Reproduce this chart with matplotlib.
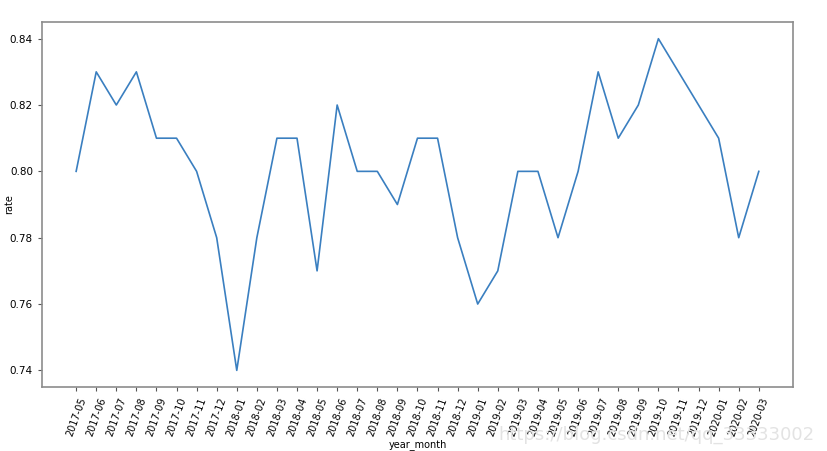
import matplotlib
matplotlib.use('Agg')
import matplotlib.pyplot as plt

# Data
months = ['2017-05', '2017-06', '2017-07', '2017-08', '2017-09', '2017-10', '2017-11', '2017-12',
          '2018-01', '2018-02', '2018-03', '2018-04', '2018-05', '2018-06', '2018-07', '2018-08',
          '2018-09', '2018-10', '2018-11', '2018-12', '2019-01', '2019-02', '2019-03', '2019-04',
          '2019-05', '2019-06', '2019-07', '2019-08', '2019-09', '2019-10', '2019-11', '2019-12',
          '2020-01', '2020-02', '2020-03']
rate = [0.80, 0.83, 0.82, 0.83, 0.81, 0.81, 0.80, 0.78,
        0.74, 0.78, 0.81, 0.81, 0.77, 0.82, 0.80, 0.80,
        0.79, 0.81, 0.81, 0.78, 0.76, 0.77, 0.80, 0.80,
        0.78, 0.80, 0.83, 0.81, 0.82, 0.84, 0.83, 0.82,
        0.81, 0.78, 0.80]

fig = plt.figure(figsize=(8.27, 4.51), dpi=100)
ax = fig.add_axes([0.0508, 0.142, 0.908, 0.809])

ax.plot(months, rate, color='#3a7fc0', linewidth=1.2)

ax.set_yticks([0.74, 0.76, 0.78, 0.80, 0.82, 0.84])
ax.tick_params(axis='x', labelrotation=70, labelsize=7, color='#555555', length=3)
ax.tick_params(axis='y', labelsize=7.5, color='#555555', length=3)
ax.set_xlabel('year_month', fontsize=7, labelpad=1)
ax.set_ylabel('rate', fontsize=7)
ax.yaxis.set_label_coords(-0.037, 0.5)
for s in ax.spines.values():
    s.set_color('#8c8c8c')
    s.set_linewidth(1.2)

# watermark
fig.text(0.985, 0.035, 'https://blog.csdn.net/qq_33333002', ha='right', va='center',
         fontsize=13, color='#e3e3e3')

fig.savefig('out.png', dpi=100)
